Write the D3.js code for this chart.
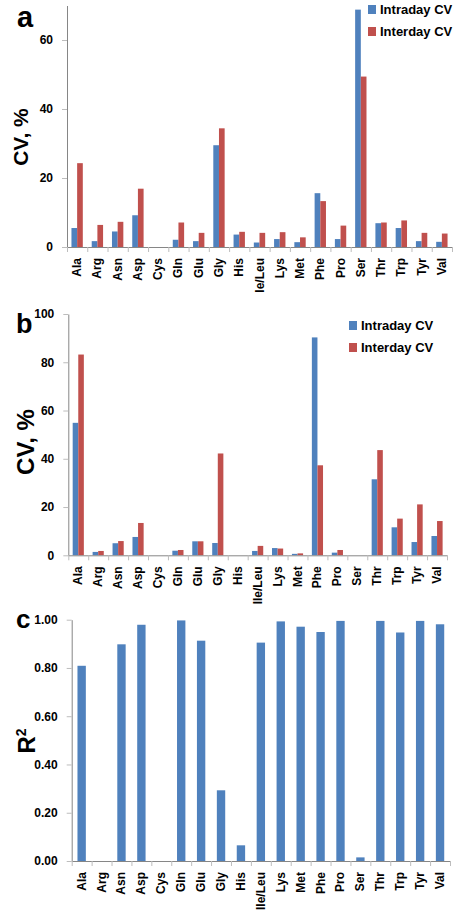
<!DOCTYPE html>
<html>
<head>
<meta charset="utf-8">
<script src="https://cdn.jsdelivr.net/npm/d3@7"></script>
<style>
  body { margin: 0; background: #fff; }
  svg text { font-family: "Liberation Sans", Arial, sans-serif; font-weight: bold; }
</style>
</head>
<body>
<svg id="chart" width="454" height="917"></svg>
<script>
var categories = ["Ala","Arg","Asn","Asp","Cys","Gln","Glu","Gly","His","Ile/Leu","Lys","Met","Phe","Pro","Ser","Thr","Trp","Tyr","Val"];
var seriesNames = ["Intraday CV","Interday CV"];

// panel a
var intraA = [5.5,1.7,4.5,9.2,0,2.1,1.7,29.5,3.6,1.3,2.3,1.4,15.6,2.3,68.8,6.9,5.5,1.7,1.5];
var interA = [24.3,6.4,7.3,16.9,0,7.1,4.1,34.4,4.4,4.1,4.3,2.8,13.3,6.2,49.4,7.1,7.7,4.1,3.9];
// panel b
var intraB = [54.9,1.4,5.0,7.6,0,1.9,5.8,5.1,0,1.8,3.0,0.6,90.3,1.1,0,31.5,11.6,5.5,8.0];
var interB = [83.2,1.8,5.9,13.4,0,2.2,5.8,42.2,0,3.9,2.8,0.8,37.3,2.2,0,43.6,15.2,21.1,14.2];
// panel c
var r2C = [0.809,0,0.898,0.979,0,0.997,0.913,0.293,0.065,0.905,0.993,0.971,0.949,0.995,0.015,0.995,0.947,0.995,0.981];

var ticksA = [0,20,40,60];
var ticksB = [0,20,40,60,80,100];
var ticksC = [0,0.2,0.4,0.6,0.8,1.0];

var colors = ["#4F81BD","#C0504D"];
var axisColor = "#868686";
var svgGlobal = d3.select("#chart");

function drawPanel(p) {
	var clipId = "clip-" + p.id;
	svgGlobal.append("clipPath").attr("id", clipId)
		.append("rect").attr("x", 0).attr("y", p.clip[0]).attr("width", 454).attr("height", p.clip[1] - p.clip[0]);
	var g = svgGlobal.append("g").attr("clip-path", "url(#" + clipId + ")");

	var x = d3.scaleBand().domain(categories).range([p.left, p.right]);
	var y = d3.scaleLinear().domain([0, p.max]).range([p.bottom, p.top]);
	var step = x.step();

	// bars
	p.series.forEach(function(vals, si) {
		var n = p.series.length;
		var bw = step * p.barFrac;
		g.selectAll(".bar" + si)
			.data(vals)
			.enter().append("rect")
			.attr("x", function(d, i) { return x(categories[i]) + step/2 - n*bw/2 + si*bw; })
			.attr("width", bw)
			.attr("y", function(d) { return y(d); })
			.attr("height", function(d) { return y(0) - y(d); })
			.style("fill", colors[si]);
	});

	// y axis
	var ya = g.append("g")
		.attr("transform", "translate(" + p.left + ",0)")
		.call(d3.axisLeft(y).tickValues(p.ticks).tickFormat(p.fmt).tickSize(5).tickSizeOuter(0).tickPadding(p.pad));
	ya.select(".domain").attr("stroke", axisColor);
	ya.selectAll(".tick line").attr("stroke", "#bdbdbd");
	ya.selectAll(".tick text").attr("fill", "#000").style("font-size", "12px");

	// x axis (ticks at category boundaries)
	var xl = d3.scaleLinear().domain([0, categories.length]).range([p.left, p.right]);
	var xa = g.append("g")
		.attr("transform", "translate(0," + p.bottom + ")")
		.call(d3.axisBottom(xl).ticks(categories.length).tickFormat("").tickSize(5).tickSizeOuter(0));
	xa.select(".domain").attr("stroke", axisColor);
	xa.selectAll(".tick line").attr("stroke", "#bdbdbd");

	g.selectAll(".xlab")
		.data(categories)
		.enter().append("text")
		.attr("transform", function(d) {
			return "translate(" + (x(d) + step/2 + 4) + "," + (p.bottom + 11) + ") rotate(-90)";
		})
		.attr("text-anchor", "end")
		.style("font-size", "12px")
		.text(function(d) { return d; });

	// panel letter
	g.append("text").attr("x", p.letter[0]).attr("y", p.letter[1])
		.style("font-size", p.letter[2] + "px").text(p.id);

	// y title
	var t = g.append("text")
		.attr("transform", "translate(" + p.title[0] + "," + p.title[1] + ") rotate(-90)")
		.attr("text-anchor", "middle")
		.style("font-size", p.title[2] + "px");
	if (p.id == "c") {
		t.append("tspan").text("R");
		t.append("tspan").attr("dy", -9).style("font-size", "14px").text("2");
	} else {
		t.text("CV, %");
	}

	// legend
	if (p.legend) {
		seriesNames.forEach(function(name, i) {
			g.append("rect")
				.attr("x", p.legend[0]).attr("y", p.legend[1] + i*p.legend[2])
				.attr("width", 8).attr("height", 9)
				.style("fill", colors[i]);
			g.append("text")
				.attr("x", p.legend[0] + 12).attr("y", p.legend[1] + 8.5 + i*p.legend[2])
				.style("font-size", "13px")
				.text(name);
		});
	}
}

drawPanel({id: "a", series: [intraA, interA], max: 70, ticks: ticksA, fmt: d3.format("d"),
	left: 67, right: 452, top: 5.5, bottom: 247, clip: [0, 292], barFrac: 0.28, pad: 9,
	letter: [17, 27, 29], title: [28, 137, 21], legend: [368, 5, 22]});
drawPanel({id: "b", series: [intraB, interB], max: 100, ticks: ticksB, fmt: d3.format("d"),
	left: 68.3, right: 447, top: 314, bottom: 555.3, clip: [300, 606], barFrac: 0.28, pad: 9,
	letter: [16, 333, 27], title: [34, 442, 24], legend: [349, 321, 22]});
drawPanel({id: "c", series: [r2C], max: 1, ticks: ticksC, fmt: d3.format(".2f"),
	left: 71.7, right: 450, top: 619.7, bottom: 861, clip: [606, 917], barFrac: 0.42, pad: 9,
	letter: [16, 628, 26], title: [35, 741, 24], legend: null});
</script>
</body>
</html>
